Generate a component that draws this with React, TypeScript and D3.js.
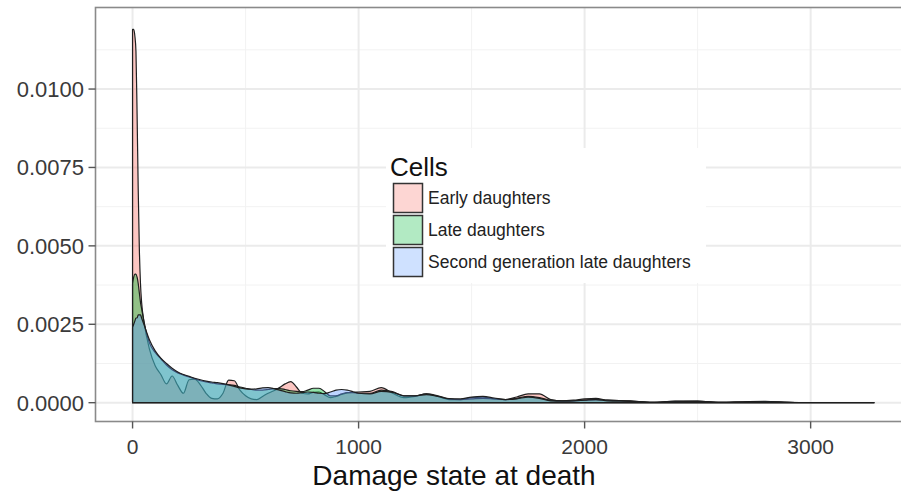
import React from "react";
import * as d3 from "d3";

// Grid of damage values at which the densities are tabulated
const damage = [
  0, 5, 10, 15, 20, 25, 30, 35, 40,
  50, 75, 100, 125, 150, 175, 200, 225, 250, 275, 300, 325, 350, 375, 400, 425, 450, 475, 500, 525,
  550, 575, 600, 625, 650, 675, 700, 725, 750, 775, 800, 825, 850, 875, 900, 925, 950, 975, 1000,
  1050, 1100, 1150, 1200, 1250, 1300, 1350, 1400, 1450, 1500, 1550, 1600, 1650, 1700, 1750, 1800,
  1850, 1900, 1950, 2000, 2050, 2100,
  2200, 2300, 2400, 2500, 2600, 2700, 2800, 2900, 3000, 3100, 3200, 3280,
];

const earlyDaughters = [
  0.0119, 0.0119, 0.0117, 0.0112, 0.0092, 0.0068, 0.0049, 0.0038, 0.0032,
  0.0026, 0.0017, 0.00118, 0.0009, 0.0006, 0.00085, 0.00055, 0.0003, 0.00073, 0.00075,
  0.00057, 0.0003, 0.00014, 0.00012, 0.0003, 0.00072, 0.0007, 0.0004, 0.00022, 0.00012,
  0.0001, 0.0002, 0.0003, 0.00038, 0.00048, 0.0006, 0.00067, 0.0005, 0.0003, 0.00028,
  0.00033, 0.00034, 0.00025, 0.00016, 0.0002, 0.00026, 0.00031, 0.00033, 0.00034,
  0.00036, 0.00048, 0.0003, 0.00016, 0.0002, 0.00028, 0.0002, 0.0001, 0.0001, 0.00016, 0.00018,
  0.00012, 0.0001, 0.00018, 0.00028, 0.00028, 0.0001, 0.00006, 0.00008, 0.00012, 0.00014, 0.00008,
  0.00006, 0.00001, 0.00005, 0.00005, 0.00001, 0.00003, 0.00004, 0.00001, 0, 0, 0, 0,
];

const lateDaughters = [
  0.0038, 0.004, 0.0041, 0.0041, 0.004, 0.0038, 0.0035, 0.0032, 0.003,
  0.0026, 0.0019, 0.0016, 0.0014, 0.0012, 0.00105, 0.00095, 0.00088, 0.00082, 0.00076,
  0.0007, 0.00066, 0.00063, 0.0006, 0.00058, 0.00057, 0.00055, 0.0005, 0.00046, 0.00042,
  0.0004, 0.0004, 0.00042, 0.00045, 0.00045, 0.00042, 0.00038, 0.00036, 0.00035, 0.0004,
  0.00046, 0.00046, 0.00035, 0.00022, 0.00022, 0.00028, 0.00032, 0.00032, 0.0003,
  0.0003, 0.0004, 0.00035, 0.00022, 0.00022, 0.00028, 0.00022, 0.00012, 0.0001, 0.00012, 0.00014,
  0.00012, 0.0001, 0.00014, 0.0002, 0.00016, 0.00008, 0.00006, 0.00006, 0.00008, 0.0001, 0.00008,
  0.00005, 0.00001, 0.00004, 0.00004, 0.00001, 0.00002, 0.00003, 0.00001, 0, 0, 0, 0,
];

const secondGeneration = [
  0.0024, 0.0025, 0.0026, 0.0027, 0.0027, 0.0028, 0.0028, 0.0028, 0.0027,
  0.0025, 0.002, 0.00165, 0.00142, 0.00125, 0.0011, 0.00098, 0.0009, 0.00084, 0.00078,
  0.00073, 0.00069, 0.00066, 0.00064, 0.00061, 0.00057, 0.00052, 0.00047, 0.00044, 0.00043,
  0.00044, 0.00047, 0.00048, 0.00045, 0.0004, 0.00035, 0.00031, 0.0003, 0.00032, 0.00034,
  0.00033, 0.0003, 0.00029, 0.00034, 0.0004, 0.00042, 0.0004, 0.00035, 0.0003,
  0.00028, 0.00036, 0.00033, 0.00022, 0.00022, 0.00026, 0.0002, 0.00013, 0.00012, 0.00018, 0.0002,
  0.00015, 0.0001, 0.00012, 0.00018, 0.00014, 0.00006, 0.00005, 0.00006, 0.00008, 0.0001, 0.00006,
  0.00004, 0.00001, 0.00003, 0.00004, 0.00001, 0.00002, 0.00003, 0.00001, 0, 0, 0, 0,
];

const seriesNames = ["Early daughters", "Late daughters", "Second generation late daughters"];
const seriesColors = ["#F8766D", "#00BA38", "#619CFF"];
const xTicks = [0, 1000, 2000, 3000];
const xMinor = [500, 1500, 2500, 3500];
const yTicks = [0, 0.0025, 0.005, 0.0075, 0.01];
const yMinor = [0.00125, 0.00375, 0.00625, 0.00875, 0.01125];

const W = 901;
const H = 495;
const panel = { left: 95.5, top: 7.5, right: 911, bottom: 421.5 };

export default function App() {
  const x = d3.scaleLinear().domain([-164, 3444]).range([panel.left, panel.right]);
  const y = d3.scaleLinear().domain([-0.0006, 0.0126]).range([panel.bottom, panel.top]);
  const fmt = d3.format(".4f");

  const series = [earlyDaughters, lateDaughters, secondGeneration];
  const area = d3
    .area<number>()
    .x((_, i) => x(damage[i]))
    .y0(() => y(0))
    .y1((d) => y(d))
    .curve(d3.curveMonotoneX);

  const font = "'Liberation Sans', Arial, sans-serif";

  return (
    <svg
      width={W}
      height={H}
      style={{ position: "absolute", left: 0, top: 0, background: "#fff" }}
      fontFamily={font}
    >
      <defs>
        <clipPath id="panelClip">
          <rect x={panel.left} y={panel.top} width={panel.right - panel.left} height={panel.bottom - panel.top} />
        </clipPath>
      </defs>
      <rect x={0} y={0} width={W} height={H} fill="#fff" />
      <g clipPath="url(#panelClip)">
        {xMinor.map((v) => (
          <line key={"xm" + v} x1={x(v)} x2={x(v)} y1={panel.top} y2={panel.bottom} stroke="#f2f2f2" strokeWidth={1} />
        ))}
        {yMinor.map((v) => (
          <line key={"ym" + v} x1={panel.left} x2={panel.right} y1={y(v)} y2={y(v)} stroke="#f2f2f2" strokeWidth={1} />
        ))}
        {xTicks.map((v) => (
          <line key={"xg" + v} x1={x(v)} x2={x(v)} y1={panel.top} y2={panel.bottom} stroke="#ebebeb" strokeWidth={2} />
        ))}
        {yTicks.map((v) => (
          <line key={"yg" + v} x1={panel.left} x2={panel.right} y1={y(v)} y2={y(v)} stroke="#ebebeb" strokeWidth={2} />
        ))}
        {series.map((s, i) => {
          const path = area(s) as string;
          return (
            <path
              key={seriesNames[i]}
              d={path + "Z"}
              fill={seriesColors[i]}
              fillOpacity={0.42}
              stroke="#1f1f1f"
              strokeWidth={1.2}
              strokeLinejoin="round"
            />
          );
        })}
      </g>
      <rect
        x={panel.left}
        y={panel.top}
        width={panel.right - panel.left}
        height={panel.bottom - panel.top}
        fill="none"
        stroke="#8a8a8a"
        strokeWidth={1.6}
      />
      {/* y axis */}
      {yTicks.map((v) => (
        <g key={"yt" + v}>
          <line x1={panel.left - 7} x2={panel.left} y1={y(v)} y2={y(v)} stroke="#555" strokeWidth={1.4} />
          <text x={84} y={y(v)} dy="0.36em" textAnchor="end" fontSize={22} fill="#3a3a3a">
            {fmt(v)}
          </text>
        </g>
      ))}
      {/* x axis */}
      {xTicks.map((v) => (
        <g key={"xt" + v}>
          <line x1={x(v)} x2={x(v)} y1={panel.bottom} y2={panel.bottom + 7} stroke="#555" strokeWidth={1.4} />
          <text x={x(v)} y={454} textAnchor="middle" fontSize={21} fill="#3a3a3a">
            {v}
          </text>
        </g>
      ))}
      <text x={454} y={485} textAnchor="middle" fontSize={28} fill="#111">
        Damage state at death
      </text>
      {/* legend */}
      <rect x={386} y={148} width={320} height={135} fill="#fff" />
      <text x={390} y={176} fontSize={26} fill="#111">
        Cells
      </text>
      {seriesNames.map((name, i) => (
        <g key={"lg" + name}>
          <rect
            x={393.5}
            y={183.5 + i * 32}
            width={29}
            height={29}
            fill={seriesColors[i]}
            fillOpacity={0.3}
            stroke="#333"
            strokeWidth={1.5}
          />
          <text x={428} y={198 + i * 32} dy="0.36em" fontSize={17.5} fill="#222">
            {name}
          </text>
        </g>
      ))}
    </svg>
  );
}
